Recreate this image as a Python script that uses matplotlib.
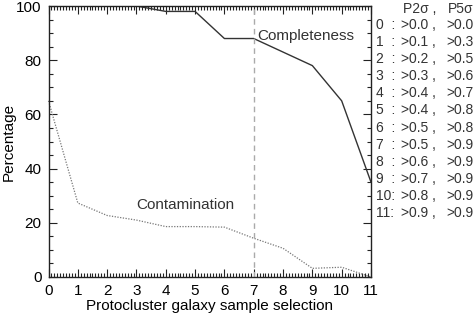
import matplotlib
matplotlib.use("Agg")
import matplotlib.pyplot as plt
from matplotlib.ticker import MultipleLocator

plt.rcParams['font.family'] = ['Liberation Sans', 'DejaVu Sans']

# sample selection index
sel = [0, 1, 2, 3, 4, 5, 6, 7, 8, 9, 10, 11]
completeness = [100, 100, 100, 100, 98, 98, 88, 88, 83, 78, 65, 35]
contamination = [65, 27.3, 22.7, 21, 18.6, 18.6, 18.4, 14.3, 10.6, 3.2, 3.6, 0]

# probability thresholds for each selection
p2 = ["0.0", "0.1", "0.2", "0.3", "0.4", "0.4", "0.5", "0.5", "0.6", "0.7", "0.8", "0.9"]
p5 = ["0.0", "0.3", "0.5", "0.6", "0.7", "0.8", "0.8", "0.9", "0.9", "0.9", "0.9", "0.9"]

W, H = 475, 314
fig = plt.figure(figsize=(W / 100, H / 100), dpi=100)
ax = fig.add_axes([48.5 / W, 1 - 277 / H, (371 - 48.5) / W, (277 - 6) / H])

ax.plot(sel, completeness, color='#333333', lw=1.0)
ax.plot(sel, contamination, color='#777777', lw=0.9, ls=(0, (1, 1.2)), clip_on=False)
ax.axvline(7, color='#aaaaaa', lw=1.0, ls=(0, (4, 3)))

ax.set_xlim(0, 11)
ax.set_ylim(0, 100)
ax.xaxis.set_major_locator(MultipleLocator(1))
ax.xaxis.set_minor_locator(MultipleLocator(0.1))
ax.yaxis.set_major_locator(MultipleLocator(20))
ax.yaxis.set_minor_locator(MultipleLocator(5))
ax.tick_params(which='both', direction='in', top=True, right=True,
               labelsize=11, color='#222222', width=0.8)
ax.tick_params(which='major', length=6, pad=5)
ax.tick_params(which='minor', length=3)
for s in ax.spines.values():
    s.set_linewidth(1.0)
    s.set_color('#222222')

ax.set_xlabel("Protocluster galaxy sample selection", fontsize=11, labelpad=1)
ax.set_ylabel("Percentage", fontsize=11)
ax.yaxis.set_label_coords(-0.122, 0.5)
ax.yaxis.label.set_va('center')

ax.text(7.12, 89, "Completeness", fontsize=11, va='center', ha='left', color='#333333')
ax.text(3.0, 26.7, "Contamination", fontsize=11, va='center', ha='left', color='#333333')

# threshold table on the right
fs = 10
fig.text(403 / W, 1 - 9 / H, "P2\u03c3 ,", fontsize=fs, va='center', color='#333333')
fig.text(448 / W, 1 - 9 / H, "P5\u03c3", fontsize=fs, va='center', color='#333333')
for i in range(len(sel)):
    y = 1 - (25 + i * 17.1) / H
    lab = f"{sel[i]}  :" if sel[i] < 10 else f"{sel[i]}:"
    fig.text(376 / W, y, lab, fontsize=fs, va='center', color='#333333')
    fig.text(401 / W, y, f">{p2[i]} ,", fontsize=fs, va='center', color='#333333')
    fig.text(446 / W, y, f">{p5[i]}", fontsize=fs, va='center', color='#333333')

fig.savefig("out.png", dpi=100)
